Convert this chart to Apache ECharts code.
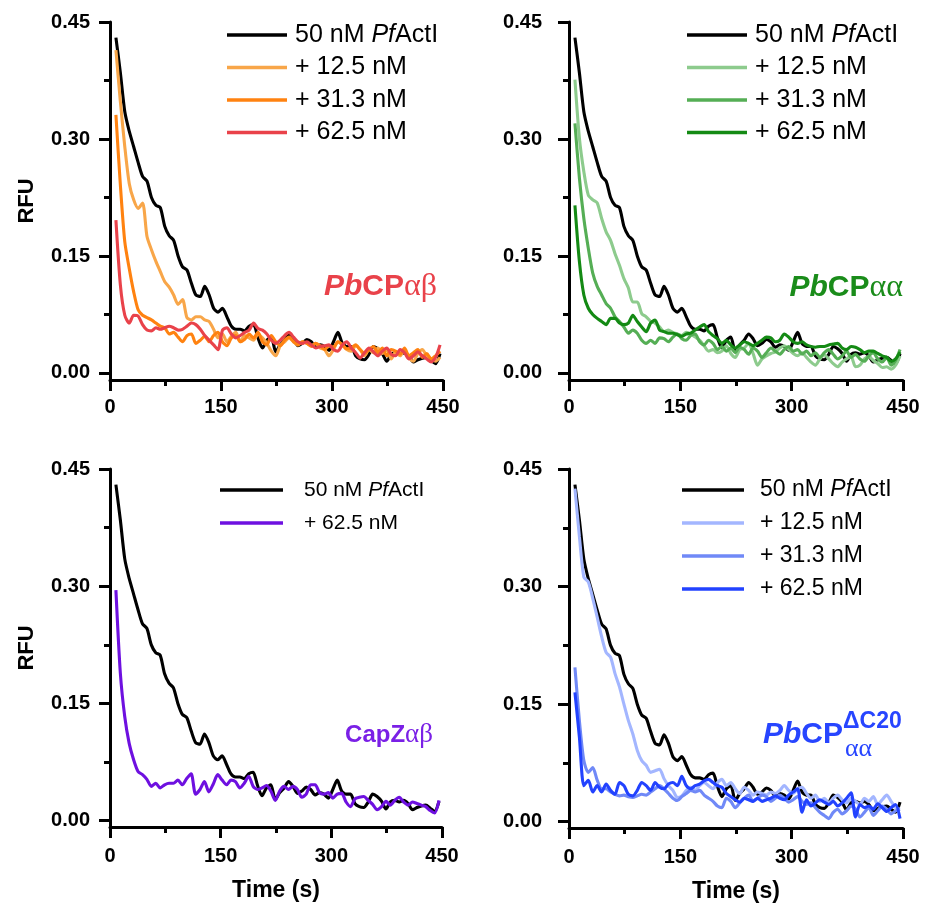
<!DOCTYPE html>
<html><head><meta charset="utf-8">
<script src="https://cdn.jsdelivr.net/npm/echarts@6/dist/echarts.min.js"></script>
<style>html,body{margin:0;padding:0;background:#fff}#c{width:934px;height:904px}</style>
</head><body><div id="c"></div>
<script>
// ---- data ----
const time = [8,14,20,26,32,38,44,50,56,62,68,74,80,86,92,98,104,110,116,122,128,134,140,146,152,158,164,170,176,182,188,194,200,206,212,218,224,230,236,242,248,254,260,266,272,278,284,290,296,302,308,314,320,326,332,338,344,350,356,362,368,374,380,386,392,398,404,410,416,422,428,434,440,446];
const yTicks = [0, 0.15, 0.30, 0.45];
const yMinorTicks = [0.075, 0.225, 0.375];
const actin = [0.430,0.385,0.335,0.310,0.290,0.270,0.252,0.246,0.225,0.215,
 0.212,0.188,0.176,0.170,0.150,0.136,0.132,0.115,0.100,0.098,
 0.111,0.100,0.083,0.078,0.083,0.072,0.060,0.056,0.056,0.054,
 0.060,0.062,0.045,0.032,0.042,0.046,0.027,0.036,0.042,0.050,
 0.044,0.035,0.038,0.043,0.040,0.033,0.036,0.034,0.029,0.040,
 0.052,0.038,0.034,0.034,0.022,0.018,0.017,0.024,0.034,0.031,
 0.025,0.015,0.024,0.026,0.024,0.026,0.022,0.014,0.017,0.019,
 0.020,0.016,0.012,0.025];
const abLow = [0.414,0.348,0.290,0.243,0.222,0.211,0.218,0.175,0.158,0.143,
 0.130,0.117,0.110,0.100,0.088,0.094,0.071,0.068,0.072,0.072,
 0.068,0.066,0.056,0.045,0.050,0.040,0.047,0.052,0.040,0.048,
 0.045,0.042,0.050,0.045,0.038,0.028,0.022,0.035,0.040,0.045,
 0.040,0.036,0.040,0.038,0.035,0.038,0.032,0.030,0.022,0.030,
 0.040,0.036,0.030,0.028,0.035,0.030,0.022,0.030,0.026,0.032,
 0.025,0.030,0.018,0.027,0.022,0.030,0.020,0.015,0.025,0.030,
 0.022,0.018,0.015,0.020];
const abMid = [0.331,0.241,0.168,0.134,0.104,0.081,0.074,0.071,0.068,0.064,
 0.060,0.058,0.050,0.052,0.046,0.040,0.048,0.050,0.038,0.042,
 0.047,0.040,0.048,0.052,0.040,0.035,0.045,0.048,0.040,0.043,
 0.050,0.045,0.052,0.040,0.036,0.048,0.040,0.035,0.042,0.046,
 0.040,0.036,0.040,0.038,0.034,0.038,0.035,0.030,0.035,0.033,
 0.040,0.036,0.031,0.032,0.036,0.030,0.025,0.030,0.034,0.026,
 0.032,0.022,0.030,0.028,0.024,0.032,0.022,0.026,0.030,0.020,
 0.025,0.018,0.022,0.028];
const abHigh = [0.196,0.113,0.074,0.064,0.074,0.073,0.062,0.055,0.054,0.058,
 0.056,0.058,0.060,0.058,0.055,0.056,0.060,0.064,0.062,0.056,
 0.048,0.042,0.036,0.030,0.055,0.058,0.050,0.045,0.048,0.052,
 0.055,0.064,0.057,0.055,0.050,0.042,0.038,0.042,0.048,0.052,
 0.046,0.040,0.038,0.040,0.036,0.032,0.034,0.035,0.036,0.030,
 0.028,0.036,0.040,0.032,0.026,0.019,0.026,0.032,0.027,0.022,
 0.028,0.032,0.024,0.022,0.030,0.026,0.018,0.022,0.027,0.022,
 0.018,0.014,0.020,0.036];
const aaLow = [0.376,0.301,0.258,0.228,0.222,0.218,0.198,0.181,0.170,0.153,
 0.138,0.121,0.109,0.091,0.091,0.076,0.072,0.066,0.064,0.059,
 0.053,0.055,0.052,0.050,0.048,0.052,0.050,0.046,0.042,0.035,
 0.028,0.030,0.026,0.028,0.035,0.025,0.020,0.030,0.032,0.038,
 0.025,0.010,0.018,0.022,0.025,0.027,0.032,0.035,0.030,0.025,
 0.022,0.026,0.020,0.014,0.010,0.018,0.023,0.018,0.012,0.008,
 0.014,0.018,0.021,0.008,0.010,0.018,0.021,0.016,0.012,0.007,
 0.008,0.005,0.010,0.022];
const aaMid = [0.320,0.250,0.198,0.160,0.128,0.111,0.100,0.089,0.083,0.072,
 0.066,0.059,0.051,0.055,0.051,0.042,0.038,0.042,0.038,0.045,
 0.044,0.040,0.046,0.050,0.044,0.042,0.048,0.050,0.040,0.036,
 0.042,0.038,0.030,0.034,0.028,0.032,0.026,0.033,0.030,0.024,
 0.032,0.028,0.020,0.026,0.032,0.028,0.024,0.030,0.034,0.028,
 0.030,0.024,0.028,0.022,0.026,0.020,0.026,0.030,0.024,0.018,
 0.022,0.028,0.020,0.024,0.018,0.015,0.022,0.026,0.018,0.014,
 0.020,0.010,0.016,0.030];
const aaHigh = [0.215,0.143,0.100,0.083,0.075,0.070,0.066,0.062,0.070,0.070,
 0.064,0.062,0.064,0.074,0.066,0.059,0.053,0.064,0.068,0.055,
 0.053,0.051,0.051,0.049,0.047,0.050,0.051,0.055,0.059,0.062,
 0.053,0.048,0.044,0.038,0.042,0.036,0.032,0.036,0.040,0.038,
 0.035,0.038,0.042,0.046,0.045,0.040,0.042,0.050,0.046,0.040,
 0.038,0.040,0.036,0.034,0.033,0.034,0.034,0.036,0.037,0.038,
 0.032,0.030,0.034,0.033,0.030,0.026,0.028,0.028,0.025,0.022,
 0.020,0.015,0.018,0.027];
const capz = [0.295,0.189,0.133,0.099,0.078,0.063,0.059,0.053,0.044,0.048,
 0.042,0.046,0.048,0.048,0.052,0.046,0.054,0.060,0.034,0.040,
 0.050,0.037,0.047,0.059,0.052,0.046,0.052,0.050,0.042,0.048,
 0.057,0.044,0.040,0.042,0.045,0.038,0.026,0.038,0.044,0.040,
 0.044,0.040,0.030,0.034,0.046,0.046,0.036,0.034,0.036,0.029,
 0.034,0.035,0.024,0.018,0.028,0.030,0.031,0.026,0.021,0.014,
 0.018,0.025,0.020,0.026,0.030,0.024,0.020,0.024,0.022,0.020,
 0.018,0.013,0.010,0.026];
const dLow = [0.425,0.364,0.312,0.306,0.285,0.261,0.236,0.216,0.210,0.189,
 0.172,0.150,0.129,0.112,0.091,0.078,0.072,0.063,0.065,0.067,
 0.055,0.046,0.040,0.031,0.033,0.040,0.044,0.040,0.046,0.050,
 0.046,0.042,0.050,0.054,0.046,0.050,0.042,0.036,0.044,0.040,
 0.034,0.038,0.036,0.034,0.038,0.036,0.040,0.046,0.040,0.036,
 0.042,0.044,0.036,0.030,0.034,0.026,0.030,0.024,0.030,0.034,
 0.028,0.024,0.030,0.026,0.022,0.030,0.026,0.032,0.022,0.028,
 0.034,0.026,0.018,0.016];
const dMid = [0.197,0.129,0.078,0.063,0.069,0.053,0.042,0.042,0.038,0.035,
 0.033,0.034,0.032,0.031,0.033,0.035,0.034,0.038,0.042,0.046,
 0.042,0.036,0.030,0.027,0.032,0.036,0.040,0.038,0.040,0.034,
 0.030,0.026,0.020,0.018,0.030,0.026,0.018,0.024,0.030,0.034,
 0.026,0.030,0.034,0.032,0.026,0.030,0.034,0.030,0.025,0.028,
 0.032,0.026,0.022,0.024,0.018,0.012,0.008,0.004,0.012,0.016,
 0.010,0.014,0.020,0.016,0.006,0.012,0.018,0.008,0.014,0.020,
 0.016,0.010,0.014,0.016];
const dHigh = [0.165,0.108,0.046,0.053,0.038,0.046,0.038,0.048,0.040,0.035,
 0.050,0.046,0.035,0.033,0.040,0.050,0.046,0.040,0.050,0.044,
 0.042,0.048,0.050,0.046,0.058,0.046,0.042,0.046,0.048,0.052,
 0.054,0.050,0.046,0.044,0.036,0.032,0.028,0.025,0.030,0.028,
 0.026,0.030,0.026,0.028,0.030,0.033,0.030,0.028,0.034,0.038,
 0.042,0.012,0.028,0.020,0.024,0.028,0.025,0.022,0.026,0.020,
 0.024,0.030,0.037,0.006,0.022,0.018,0.020,0.016,0.023,0.018,
 0.013,0.018,0.022,0.004];

const L0 = '50 nM PfActI', L1 = '+ 12.5 nM', L2 = '+ 31.3 nM', L3 = '+ 62.5 nM';

// ---- layout/styles ----
const FONT = 'Liberation Sans, Arial, Helvetica, sans-serif';
const panels = [
  {key:'A', grid:{left:110, top:22, width:333, height:358}, ymin:-0.009, yMargin:20, xMargin:17, rfu:true, time:false,
   legend:{left:227, top:20, font:25, gap:2.5, w:60, pad:3},
   lines:[[L0,actin,'#000000'],[L1,abLow,'#F8A649'],[L2,abMid,'#FF8210'],[L3,abHigh,'#E9424A']]},
  {key:'B', grid:{left:569, top:22, width:334, height:358}, ymin:-0.009, yMargin:27, xMargin:17, rfu:false, time:false,
   legend:{left:687, top:20, font:25, gap:2.5, w:60, pad:3},
   lines:[[L0,actin,'#000000'],[L1,aaLow,'#8DCB8D'],[L2,aaMid,'#55AE55'],[L3,aaHigh,'#148A14']]},
  {key:'C', grid:{left:110, top:469, width:332, height:358}, ymin:-0.008, yMargin:20, xMargin:19, rfu:true, time:true,
   legend:{left:220, top:475, font:21, gap:3, w:63, pad:16},
   lines:[[L0,actin,'#000000'],[L3,capz,'#6E10E0']]},
  {key:'D', grid:{left:569, top:469, width:334, height:359}, ymin:-0.008, yMargin:27, xMargin:19, rfu:false, time:true,
   legend:{left:682, top:475, font:23, gap:3, w:62, pad:11},
   lines:[[L0,actin,'#000000'],[L1,dLow,'#A3B6FF'],[L2,dMid,'#7089F7'],[L3,dHigh,'#2242FF']]}
];

const grid = [], xAxis = [], yAxis = [], series = [], legend = [];
panels.forEach((p, i) => {
  grid.push(Object.assign({containLabel:false}, p.grid));
  xAxis.push({
    type:'value', gridIndex:i, min:0, max:450, interval:150,
    name: p.time ? 'Time (s)' : '', nameLocation:'middle', nameGap:52,
    nameTextStyle:{fontSize:23, fontWeight:'bold', color:'#000', fontFamily:FONT},
    axisLine:{onZero:false, lineStyle:{color:'#000', width:3}},
    axisTick:{length:11, lineStyle:{color:'#000', width:3}},
    minorTick:{show:true, splitNumber:2, length:6, lineStyle:{color:'#000', width:3}},
    axisLabel:{fontSize:20, fontWeight:'bold', color:'#000', margin:p.xMargin, fontFamily:FONT},
    splitLine:{show:false}, minorSplitLine:{show:false}
  });
  yAxis.push({
    type:'value', gridIndex:i, min:p.ymin, max:0.45, position:'left',
    name: p.rfu ? 'RFU' : '', nameLocation:'middle', nameGap:72,
    nameTextStyle:{fontSize:22, fontWeight:'bold', color:'#000', fontFamily:FONT},
    axisLine:{show:true, onZero:false, lineStyle:{color:'#000', width:3}},
    axisTick:{show:true, customValues:yTicks, length:11, lineStyle:{color:'#000', width:3}},
    axisLabel:{customValues:yTicks, formatter:v => v.toFixed(2), fontSize:20, fontWeight:'bold', color:'#000', margin:p.yMargin, fontFamily:FONT},
    splitLine:{show:false}
  });
  yAxis.push({
    type:'value', gridIndex:i, min:p.ymin, max:0.45, position:'left', offset:0,
    axisLine:{show:false, onZero:false},
    axisTick:{show:true, customValues:yMinorTicks, length:6, lineStyle:{color:'#000', width:3}},
    axisLabel:{show:false}, splitLine:{show:false}
  });
  const names = [];
  p.lines.forEach(([label, vals, color]) => {
    const nm = p.key + '|' + label;
    names.push(nm);
    series.push({
      type:'line', name:nm, xAxisIndex:i, yAxisIndex:2*i,
      data: time.map((t, k) => [t, vals[k]]),
      symbol:'none', smooth:0.25, color:color,
      lineStyle:{width:3.1, color:color}
    });
  });
  const lg = p.legend;
  legend.push({
    data:names, orient:'vertical', left:lg.left, top:lg.top,
    icon:'rect', itemWidth:lg.w, itemHeight:3.6, itemGap:lg.gap, padding:0,
    selectedMode:false,
    formatter: name => {
      const lbl = name.split('|')[1];
      return '{s| }' + lbl.replace('PfActI', '{i|Pf}ActI');
    },
    textStyle:{fontSize:lg.font, color:'#000', fontFamily:FONT, lineHeight:30,
      rich:{s:{width:lg.pad, fontSize:lg.font}, i:{fontStyle:'italic', fontSize:lg.font, fontFamily:FONT, color:'#000'}}}
  });
});

const SERIF = 'Liberation Serif, DejaVu Serif, serif';
function ann(x, y, text, color, rich, align) {
  const r = {};
  Object.keys(rich).forEach(k => { r[k] = Object.assign({fill:color, fontFamily:FONT}, rich[k]); });
  return {type:'text', x:x, y:y, z:100, style:{text:text, fill:color, align:align || 'right', verticalAlign:'middle', rich:r}};
}
const graphic = [
  ann(437, 287, '{bi|Pb}{b|CP}{g|αβ}', '#E9424A',
    {bi:{fontSize:30, fontWeight:'bold', fontStyle:'italic'}, b:{fontSize:30, fontWeight:'bold'}, g:{fontSize:32, fontFamily:SERIF}}),
  ann(903, 288, '{bi|Pb}{b|CP}{g|αα}', '#1A8C1A',
    {bi:{fontSize:30, fontWeight:'bold', fontStyle:'italic'}, b:{fontSize:30, fontWeight:'bold'}, g:{fontSize:32, fontFamily:SERIF}}),
  ann(433, 735, '{b|CapZ}{g|αβ}', '#7A20E6',
    {b:{fontSize:24, fontWeight:'bold'}, g:{fontSize:27, fontFamily:SERIF}}),
  ann(843, 735, '{bi|Pb}{b|CP}', '#2745FF',
    {bi:{fontSize:30, fontWeight:'bold', fontStyle:'italic'}, b:{fontSize:30, fontWeight:'bold'}}),
  ann(843, 722, '{b|ΔC20}', '#2745FF', {b:{fontSize:23, fontWeight:'bold'}}, 'left'),
  ann(845, 749, '{g|αα}', '#2745FF', {g:{fontSize:26, fontFamily:SERIF}}, 'left')
];

const chart = echarts.init(document.getElementById('c'), null, {renderer:'canvas'});
chart.setOption({
  animation:false, backgroundColor:'#fff',
  textStyle:{fontFamily:FONT},
  grid, xAxis, yAxis, series, legend, graphic
});
</script></body></html>
